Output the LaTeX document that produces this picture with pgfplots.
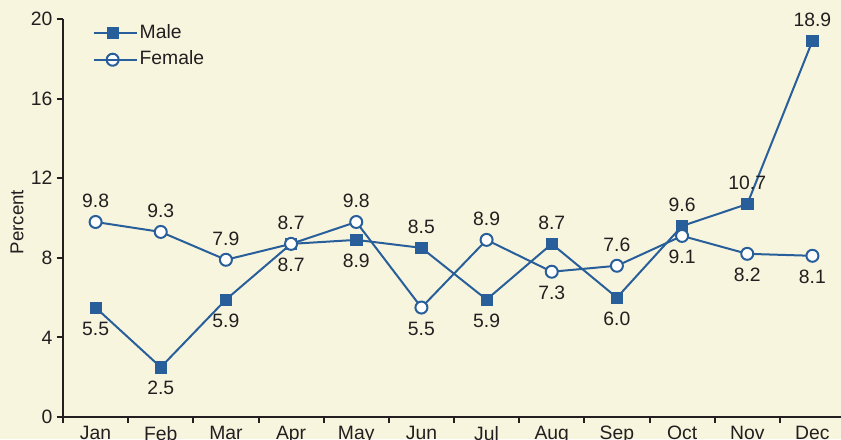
\documentclass[border=0pt]{standalone}
\usepackage{fontspec}
\setmainfont{Liberation Sans}
\usepackage{pgfplots}
\usepackage{pgfplotstable}
\pgfplotsset{compat=1.18}
\definecolor{bg}{RGB}{248,245,222}
\definecolor{lb}{RGB}{40,95,155}
\definecolor{tx}{RGB}{35,31,32}

\pgfplotstableread{
x y
0 5.5
1 2.5
2 5.9
3 8.7
4 8.9
5 8.5
6 5.9
7 8.7
8 6.0
9 9.6
10 10.7
11 18.9
}\male

\pgfplotstableread{
x y
0 9.8
1 9.3
2 7.9
3 8.7
4 9.8
5 5.5
6 8.9
7 7.3
8 7.6
9 9.1
10 8.2
11 8.1
}\female

\begin{document}
\begin{tikzpicture}
\fill[bg] (-47.25pt,-16.5pt) rectangle (583.5pt,312.75pt);
\begin{axis}[
  at={(0,0)}, anchor=south west, scale only axis,
  width=586.5pt, height=298.5pt,
  xmin=-0.5, xmax=11.5, ymin=0, ymax=20,
  axis x line=bottom, axis y line=left,
  axis line style={-, line width=1.5pt, color=tx},
  every tick/.style={line width=1.5pt, color=tx},
  tick align=outside,
  xtick={-0.5,0.5,...,11.5},
  xticklabels={Jan,Feb,Mar,Apr,May,Jun,Jul,Aug,Sep,Oct,Nov,Dec},
  x tick label as interval,
  ytick={0,4,8,12,16,20},
  major tick length=4.5pt,
  tick label style={font=\fontsize{14.5}{16}\selectfont, text=tx},
  xticklabel style={yshift=1pt},
  /pgf/number format/assume math mode=true,
  ylabel={Percent},
  every axis y label/.style={at={(rel axis cs:0,0.5)}, xshift=-34.5pt, yshift=-3pt, rotate=90, anchor=center,
     font=\fontsize{14}{16}\selectfont, text=tx},
  clip=false,
  legend style={draw=none, fill=none, at={(rel axis cs:0.038,0.993)}, anchor=north west,
     font=\fontsize{14.5}{16}\selectfont, text=tx, row sep=3.5pt, inner sep=0pt,
     nodes={inner sep=1.5pt, text height=10.5pt, text depth=3pt}},
  legend cell align=left,
  legend image code/.code={\draw[mark repeat=2,mark phase=2,#1] plot coordinates {(0pt,0pt) (14pt,0pt) (28pt,0pt)};
     \path (0pt,0pt) -- (32pt,0pt);},
  lbl/.style={draw=none, mark=none, forget plot,
    point meta=explicit symbolic,
    nodes near coords={\pgfplotspointmeta},
    nodes near coords style={font=\fontsize{14.5}{16}\selectfont, text=tx, anchor=center, yshift=#1*15.75pt}},
]
\addplot[lb, line width=1.5pt, mark=square*, mark size=4.2pt, mark options={fill=lb, draw=lb, line width=0.5pt}]
  table[x=x, y=y] {\male};
\addlegendentry{Male}
\addplot[lb, line width=1.5pt, mark=*, mark size=4.5pt, mark options={fill=white, draw=lb, line width=1.5pt}]
  table[x=x, y=y] {\female};
\addlegendentry{Female}
% labels above
\addplot[lbl=1] coordinates {(5,8.5)[8.5] (7,8.7)[8.7] (9,9.6)[9.6] (10,10.7)[10.7] (11,18.9)[18.9]
  (0,9.8)[9.8] (1,9.3)[9.3] (2,7.9)[7.9] (3,8.7)[8.7] (4,9.8)[9.8] (6,8.9)[8.9] (8,7.6)[7.6]};
% labels below
\addplot[lbl=-1] coordinates {(0,5.5)[5.5] (1,2.5)[2.5] (2,5.9)[5.9] (3,8.7)[8.7] (4,8.9)[8.9] (6,5.9)[5.9] (8,6.0)[6.0]
  (5,5.5)[5.5] (7,7.3)[7.3] (9,9.1)[9.1] (10,8.2)[8.2] (11,8.1)[8.1]};
\end{axis}
\pgfresetboundingbox
\useasboundingbox (-47.25pt,-16.5pt) rectangle (583.5pt,312.75pt);
\end{tikzpicture}
\end{document}
